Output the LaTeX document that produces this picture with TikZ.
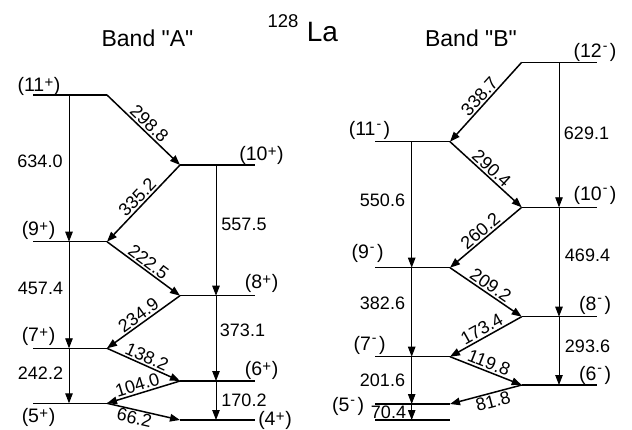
\documentclass[tikz,border=0pt]{standalone}
\usepackage{fontspec}
\setmainfont{Liberation Sans}[Ligatures=TeXOff]
\usetikzlibrary{arrows.meta}
\newcommand{\spp}{\kern0.3pt\raisebox{3.8pt}{\fontsize{15}{15}\selectfont +}\kern0.6pt}
\newcommand{\spm}{\kern1pt\raisebox{7.5pt}{\fontsize{14}{14}\selectfont -}\kern2.5pt}
\begin{document}
\begin{tikzpicture}[x=1pt,y=-1pt,
  lvl/.style={line width=1.4pt},
  dtr/.style={line width=1.5pt,-{Triangle[length=10pt,width=7.5pt]}},
  vtr/.style={line width=0.9pt,-{Triangle[length=10pt,width=7.5pt]}},
  num/.style={font=\fontsize{18}{18}\selectfont,inner sep=0pt},
  dl/.style={num,sloped,inner sep=1.5pt},
  spin/.style={font=\fontsize{19.5}{19.5}\selectfont,inner sep=0pt},
  ttl/.style={font=\fontsize{23}{23}\selectfont,inner sep=0pt,anchor=base}]
\useasboundingbox (0,0) rectangle (632,430);
% ---- titles
\node[ttl] (tA) at (147.5,46.7) {Band "A"};
\node[ttl] (tB) at (471,46.7) {Band "B"};
\node[font=\fontsize{18.5}{18.5}\selectfont,inner sep=0pt,anchor=base] (t128) at (283,27.7) {128};
\node[font=\fontsize{28}{28}\selectfont,inner sep=0pt,anchor=base] (tLa) at (322.5,41.7) {La};
% ---- Band A coordinates
\foreach \n/\y in {11/95,9/241.7,7/348.3,5/403.3}{
  \coordinate (a\n L) at (33,\y); \coordinate (a\n R) at (107,\y); \coordinate (a\n V) at (69,\y);}
\foreach \n/\y in {10/165,8/295.7,6/381,4/420}{
  \coordinate (a\n L) at (180,\y); \coordinate (a\n R) at (255,\y); \coordinate (a\n V) at (216,\y);}
% ---- Band B coordinates
\foreach \n/\y in {11/141.7,9/267.7,7/356.7,5/404,0/420}{
  \coordinate (b\n L) at (375,\y); \coordinate (b\n R) at (450,\y); \coordinate (b\n V) at (411.7,\y);}
\foreach \n/\y in {12/62.3,10/207.3,8/316.7,6/385}{
  \coordinate (b\n L) at (521.7,\y); \coordinate (b\n R) at (596.7,\y); \coordinate (b\n V) at (559,\y);}
% ---- levels
\foreach \n in {11,10,9,8,7,6,5,4}{\draw[lvl] (a\n L) -- (a\n R);}
\foreach \n in {12,11,10,9,8,7,6,5,0}{\draw[lvl] (b\n L) -- (b\n R);}
% ---- Band A vertical transitions
\draw[vtr] (a11V) -- (a9V);
\draw[vtr] (a9V) -- (a7V);
\draw[vtr] (a7V) -- (a5V);
\draw[vtr] (a10V) -- (a8V);
\draw[vtr] (a8V) -- (a6V);
\draw[vtr] (a6V) -- (a4V);
% ---- Band A diagonal transitions
\draw[dtr] (a11R) -- node[dl,above] (d2988) {298.8} (a10L);
\draw[dtr] (a10L) -- node[dl,above] (d3352) {335.2} (a9R);
\draw[dtr] (a9R) -- node[dl,above] (d2225) {222.5} (a8L);
\draw[dtr] (a8L) -- node[dl,above] (d2349) {234.9} (a7R);
\draw[dtr] (a7R) -- node[dl,above] (d1382) {138.2} (a6L);
\draw[dtr] (a6L) -- node[dl,above,pos=0.55] (d1040) {104.0} (a5R);
\draw[dtr] (a5R) -- node[dl,below,pos=0.4,inner sep=0.8pt] (d662) {66.2} (a4L);
% ---- Band B vertical transitions
\draw[vtr] (b11V) -- (b9V);
\draw[vtr] (b9V) -- (b7V);
\draw[vtr] (b7V) -- (b5V);
\draw[vtr] (b5V) -- (b0V);
\draw[vtr] (b12V) -- (b10V);
\draw[vtr] (b10V) -- (b8V);
\draw[vtr] (b8V) -- (b6V);
% ---- Band B diagonal transitions
\draw[dtr] (b12L) -- node[dl,above] (d3387) {338.7} (b11R);
\draw[dtr] (b11R) -- node[dl,above] (d2904) {290.4} (b10L);
\draw[dtr] (b10L) -- node[dl,above] (d2602) {260.2} (b9R);
\draw[dtr] (b9R) -- node[dl,above] (d2092) {209.2} (b8L);
\draw[dtr] (b8L) -- node[dl,above] (d1734) {173.4} (b7R);
\draw[dtr] (b7R) -- node[dl,above] (d1198) {119.8} (b6L);
\draw[dtr] (b6L) -- node[dl,below,pos=0.43] (d818) {81.8} (b5R);
% ---- vertical labels
\node[num] (v6340) at (40,161.5) {634.0};
\node[num] (v4574) at (40.5,288) {457.4};
\node[num] (v2422) at (40.5,373.5) {242.2};
\node[num] (v5575) at (244,224) {557.5};
\node[num] (v3731) at (242.5,330) {373.1};
\node[num] (v1702) at (244,400) {170.2};
\node[num] (v6291) at (586.5,133.5) {629.1};
\node[num] (v4694) at (587.5,255) {469.4};
\node[num] (v2936) at (587.5,346) {293.6};
\node[num] (v5506) at (382.5,200) {550.6};
\node[num] (v3826) at (382.5,303.5) {382.6};
\node[num] (v2016) at (382.5,380) {201.6};
\node[num] (v704) at (388.5,412.5) {70.4};
% ---- spin labels
\node[spin] (sA11) at (39,86) {(11\spp)};
\node[spin] (sA10) at (261.5,155) {(10\spp)};
\node[spin] (sA9) at (38.5,230) {(9\spp)};
\node[spin] (sA8) at (261.5,283.5) {(8\spp)};
\node[spin] (sA7) at (38.5,336.5) {(7\spp)};
\node[spin] (sA6) at (261.5,370) {(6\spp)};
\node[spin] (sA5) at (38.5,417) {(5\spp)};
\node[spin] (sA4) at (275,420) {(4\spp)};
\node[spin] (sB12) at (595,52.5) {(12\spm)};
\node[spin] (sB11) at (369.5,130.5) {(11\spm)};
\node[spin] (sB10) at (595,195) {(10\spm)};
\node[spin] (sB9) at (367.5,253.5) {(9\spm)};
\node[spin] (sB8) at (595,305) {(8\spm)};
\node[spin] (sB7) at (369.5,345) {(7\spm)};
\node[spin] (sB6) at (595,375) {(6\spm)};
\node[spin] (sB5) at (348,406.5) {(5\spm)};
\end{tikzpicture}
\end{document}
